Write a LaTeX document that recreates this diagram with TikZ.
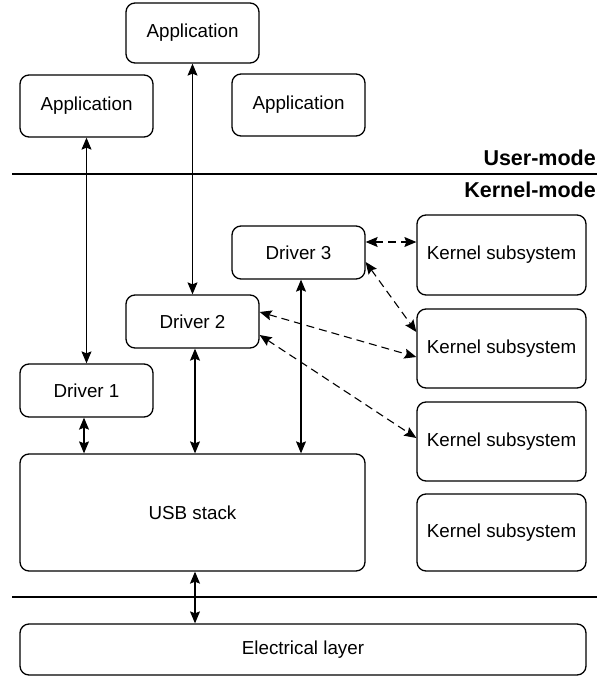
\documentclass[tikz,border=0pt]{standalone}
\usepackage{fontspec}
\setmainfont{Liberation Sans}
\usetikzlibrary{arrows.meta}
\begin{document}
\begin{tikzpicture}[x=1pt,y=-1pt,
  box/.style={draw=black,line width=1.3pt,rounded corners=9pt,inner sep=0pt,
    font=\fontsize{18.8}{22}\selectfont,text=black},
  modelabel/.style={font=\bfseries\fontsize{21.5}{25}\selectfont,anchor=base east,inner sep=0pt},
  tip/.style={Stealth[length=12pt,width=10pt,inset=2pt]},
  biarrow/.style={line width=1.1pt,{Stealth[length=12pt,width=10pt,inset=2pt]}-{Stealth[length=12pt,width=10pt,inset=2pt]}},
  dbiarrow/.style={biarrow,dash pattern=on 8pt off 5pt},
  sepline/.style={line width=2pt}]
\useasboundingbox (0,0) rectangle (606,676);
% user-mode applications
\node[box,minimum width=133pt,minimum height=60pt] (appT) at (192.5,33) {Application};
\node[box,minimum width=133pt,minimum height=62pt] (appL) at (86.5,106) {Application};
\node[box,minimum width=133pt,minimum height=62pt] (appR) at (298.5,105) {Application};
% separators and labels
\draw[sepline] (12,174) -- (597,174);
\draw[sepline] (12,597) -- (597,597);
\node[modelabel] (umode) at (596,166) {User-mode};
\node[modelabel] (kmode) at (596,197) {Kernel-mode};
% drivers
\node[box,minimum width=133pt,minimum height=53pt] (drv3) at (298.5,252.5) {Driver 3};
\node[box,minimum width=133pt,minimum height=53pt] (drv2) at (192.5,321.5) {Driver 2};
\node[box,minimum width=133pt,minimum height=53pt] (drv1) at (86.5,390.5) {Driver 1};
% kernel subsystems
\node[box,minimum width=169pt,minimum height=80pt] (ks1) at (501.5,255) {Kernel subsystem};
\node[box,minimum width=169pt,minimum height=79pt] (ks2) at (501.5,348.5) {Kernel subsystem};
\node[box,minimum width=169pt,minimum height=79pt] (ks3) at (501.5,441.5) {Kernel subsystem};
\node[box,minimum width=169pt,minimum height=77pt] (ks4) at (501.5,532.5) {Kernel subsystem};
% usb stack and electrical layer
\node[box,minimum width=345pt,minimum height=117pt] (usb) at (192.5,512.5) {USB stack};
\node[box,minimum width=566pt,minimum height=51pt] (elec) at (303,649.5) {Electrical layer};
% solid connectors
\draw[biarrow] (appL.south) -- (drv1.north);
\draw[biarrow] (appT.south) -- (drv2.north);
\draw[biarrow] ([xshift=-2.5pt]drv1.south) -- ([xshift=-2.5pt]drv1.south |- usb.north);
\draw[biarrow] ([xshift=2.5pt]drv2.south) -- ([xshift=2.5pt]drv2.south |- usb.north);
\draw[biarrow] ([xshift=2.5pt]drv3.south) -- ([xshift=2.5pt]drv3.south |- usb.north);
\draw[biarrow] ([xshift=2.5pt]usb.south) -- ([xshift=2.5pt]usb.south |- elec.north);
% dashed connectors
\draw[dbiarrow] ([yshift=10.5pt]drv3.east) -- ([yshift=10.5pt]drv3.east -| ks1.west);
\draw[dbiarrow] ([yshift=-9.5pt]drv3.east) -- ([yshift=16.5pt]ks2.west);
\draw[dbiarrow] ([yshift=9.5pt]drv2.east) -- ([yshift=-8.5pt]ks2.west);
\draw[dbiarrow] ([yshift=-13.5pt]drv2.east) -- ([yshift=3.5pt]ks3.west);
\end{tikzpicture}
\end{document}
